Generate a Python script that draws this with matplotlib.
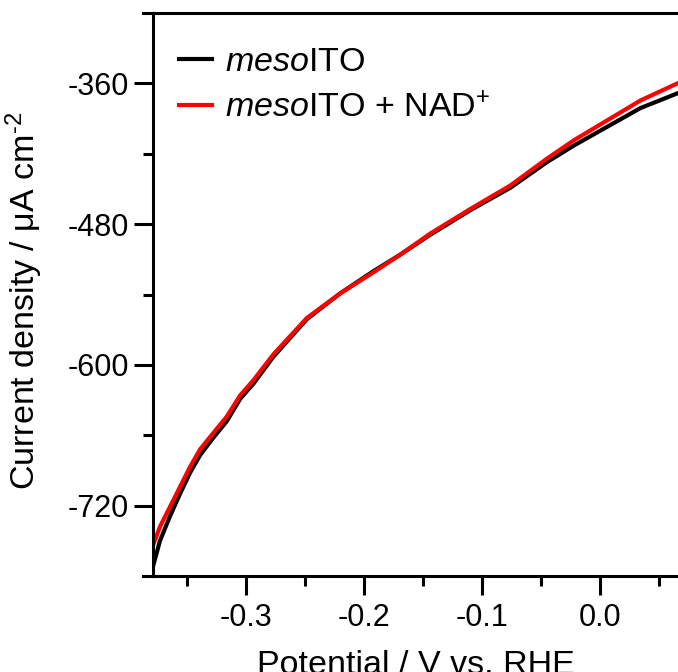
import numpy as np
import matplotlib
matplotlib.use("Agg")
import matplotlib.pyplot as plt
from matplotlib.lines import Line2D

plt.rcParams['font.family'] = ['Liberation Sans', 'DejaVu Sans']
plt.rcParams['mathtext.fontset'] = 'custom'
plt.rcParams['mathtext.rm'] = 'Liberation Sans'
plt.rcParams['mathtext.it'] = 'Liberation Sans:italic'

# potential (V vs. RHE) and current density (uA cm-2)
potential = [-0.3798, -0.3728, -0.3643, -0.3558, -0.3473, -0.3388, -0.3275, -0.3161,
             -0.3048, -0.2935, -0.2766, -0.2482, -0.2199, -0.1916, -0.169, -0.1435,
             -0.1095, -0.0756, -0.0444, -0.0218, 0.0065, 0.0348, 0.066]
j_meso = [-776, -750, -729, -710, -692, -677, -662, -648,
          -629, -616, -593, -561, -539, -520, -506, -489,
          -468, -449, -427, -413, -397, -381, -368.5]
j_meso_nad = [-757, -738, -721, -704, -687, -672, -658, -644,
              -626, -613, -591, -560, -539, -521, -506, -488,
              -467, -447, -424, -408.5, -391.5, -374.5, -360]

xticks = [-0.3, -0.2, -0.1, 0.0]
yticks = [-720, -600, -480, -360]

fig = plt.figure(figsize=(6.78, 6.72), dpi=100)
ax = fig.add_axes([153 / 678, 96 / 672, 1 - 153 / 678, 563 / 672])

ax.plot(potential, j_meso, color='black', lw=3, label=r'$\mathit{meso}$ITO')
ax.plot(potential, j_meso_nad, color='#ff0000', lw=3, label=r'$\mathit{meso}$ITO + NAD$^{+}$')

ax.set_xlim(-0.3787, 0.0665)
ax.set_ylim(-780, -300)
ax.set_xticks(xticks)
ax.set_xticks([-0.35, -0.25, -0.15, -0.05, 0.05], minor=True)
ax.set_xticklabels(['-0.3', '-0.2', '-0.1', '0.0'])
ax.set_yticks(yticks)
ax.set_yticks([-660, -540, -420], minor=True)
ax.set_yticklabels([str(v) for v in yticks])

ax.spines['right'].set_visible(False)
for s in ['left', 'bottom', 'top']:
    ax.spines[s].set_linewidth(2.2)
ax.tick_params(which='major', direction='out', length=13.5, width=2.2, labelsize=22, pad=4)
ax.tick_params(which='minor', direction='out', length=7, width=2.2)
ax.tick_params(axis='x', which='major', pad=6)
ax.tick_params(top=False, right=False, which='both')

# short stubs of the frame to the left of the y axis
for yy in [0, 1]:
    ax.add_line(Line2D([-0.019, 0], [yy, yy], transform=ax.transAxes, color='black',
                       lw=2.2, clip_on=False))

ax.set_xlabel('Potential / V vs. RHE', fontsize=24.5, labelpad=12)
ax.set_ylabel(r'Current density / μA cm$^{\text{-}2}$', fontsize=24.5)
ax.yaxis.set_label_coords(-0.206, 0.488)

ax.legend(loc='upper left', bbox_to_anchor=(0.05, 0.939), frameon=False, fontsize=24.5,
          handlelength=0.95, handletextpad=0.4, labelspacing=0.42, borderpad=0,
          borderaxespad=0)

fig.savefig('out.png', dpi=100)
